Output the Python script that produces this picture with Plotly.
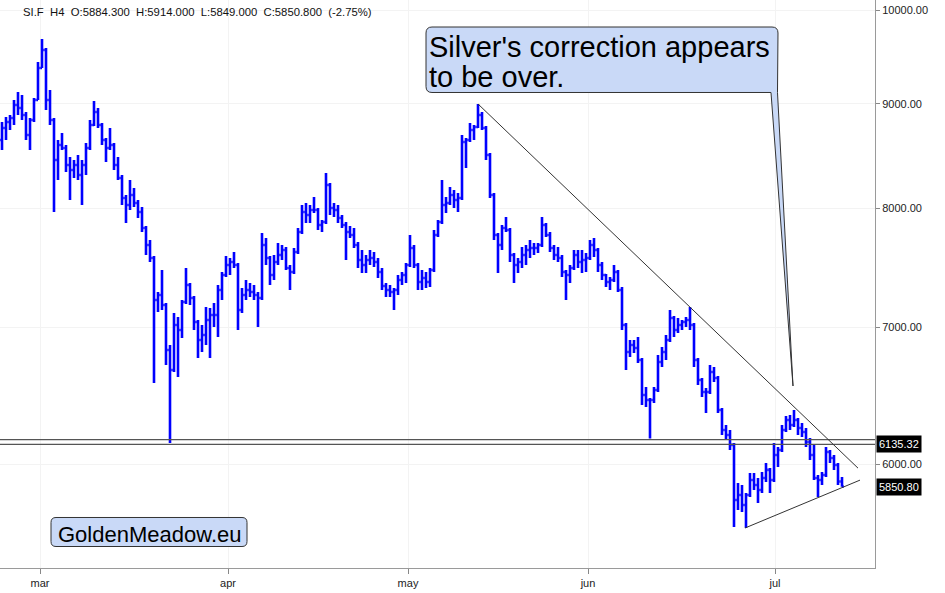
import math
import plotly.graph_objects as go

# ---------------- data (SI.F, H4) ----------------
open_ = [
    8640, 8757, 8816, 8856, 8987, 8956, 8886, 8688, 8836, 9037,
    9368, 9560, 9037, 8836, 8447, 8591, 8562, 8400, 8353, 8400,
    8306, 8400, 8562, 8787, 8916, 8787, 8640, 8562, 8591, 8400,
    8278, 8094, 8031, 8121, 8049, 7968, 7825, 7677, 7566, 7217,
    7257, 7176, 6822, 6670, 7016, 6977, 7200, 7339, 7233, 7040,
    6899, 6938, 7056, 7096, 7096, 7298, 7422, 7506, 7532, 7506,
    7136, 7257, 7298, 7282, 7257, 7233, 7677, 7566, 7422, 7532,
    7591, 7634, 7481, 7448, 7617, 7790, 7968, 7941, 7986, 7986,
    7852, 7878, 8213, 8003, 7986, 7914, 7852, 7790, 7764, 7677,
    7549, 7506, 7549, 7566, 7532, 7448, 7331, 7298, 7282, 7298,
    7381, 7422, 7506, 7651, 7506, 7364, 7397, 7364, 7464, 7764,
    7878, 8031, 8049, 8121, 8076, 8094, 8620, 8640, 8737, 8767,
    8886, 8757, 8495, 8121, 7764, 7677, 7825, 7808, 7591, 7506,
    7532, 7591, 7634, 7651, 7651, 7677, 7852, 7764, 7651, 7591,
    7566, 7448, 7422, 7481, 7591, 7532, 7549, 7566, 7677, 7634,
    7506, 7422, 7364, 7381, 7448, 7298, 7016, 6807, 6860, 6837,
    6746, 6485, 6449, 6449, 6522, 6730, 6807, 6899, 7072, 6977,
    7016, 7040, 7056, 7016, 6746, 6596, 6507, 6507, 6655, 6610,
    6377, 6235, 6200, 6131, 5763, 5795, 5730, 5795, 5894, 5861,
    5828, 5907, 5961, 5894, 6062, 6096, 6235, 6305, 6270, 6305,
    6249, 6221, 6151, 6062, 5907, 5894, 5927, 6082, 6041, 5994,
    5884.3,
]
high = [
    8816, 8866, 8886, 9037, 9119, 9088, 8916, 8856, 9058, 9432,
    9679, 9582, 9140, 8856, 8640, 8708, 8591, 8476, 8447, 8495,
    8447, 8611, 8836, 9027, 8956, 8807, 8659, 8757, 8611, 8476,
    8306, 8121, 8260, 8186, 8076, 8012, 7843, 7720, 7583, 7282,
    7464, 7192, 6860, 7112, 7080, 7217, 7481, 7356, 7249, 7056,
    7016, 7160, 7152, 7192, 7339, 7448, 7583, 7566, 7617, 7523,
    7315, 7381, 7356, 7339, 7282, 7782, 7738, 7583, 7591, 7694,
    7677, 7660, 7506, 7651, 7825, 8031, 8049, 8031, 8103, 8004,
    7896, 8325, 8232, 8049, 8031, 7941, 7878, 7843, 7825, 7703,
    7634, 7591, 7634, 7617, 7566, 7481, 7356, 7339, 7315, 7422,
    7448, 7523, 7764, 7677, 7523, 7464, 7448, 7481, 7808, 7896,
    8260, 8103, 8195, 8167, 8140, 8688, 8659, 8806, 8787, 8997,
    8916, 8777, 8514, 8140, 7782, 7852, 7923, 7825, 7609, 7566,
    7660, 7677, 7720, 7694, 7694, 7923, 7870, 7790, 7677, 7660,
    7591, 7464, 7506, 7634, 7634, 7634, 7609, 7720, 7738, 7651,
    7532, 7431, 7406, 7506, 7464, 7323, 7032, 6899, 6899, 6922,
    6761, 6544, 6463, 6544, 6784, 6845, 6938, 7136, 7088, 7072,
    7056, 7080, 7160, 7032, 6761, 6610, 6536, 6708, 6693, 6625,
    6391, 6270, 6235, 6144, 5874, 5861, 5808, 5940, 5940, 5907,
    5947, 6008, 5974, 6144, 6117, 6270, 6334, 6341, 6377, 6320,
    6284, 6249, 6179, 6131, 5927, 5947, 6117, 6096, 6062, 6008,
    5914,
]
low = [
    8543, 8640, 8737, 8787, 8886, 8836, 8640, 8543, 8816, 9037,
    9368, 8936, 8787, 7968, 8260, 8543, 8334, 8076, 8278, 8260,
    8031, 8306, 8543, 8777, 8757, 8591, 8428, 8543, 8353, 8260,
    8031, 7870, 7986, 8012, 7914, 7790, 7591, 7532, 6573, 7120,
    7136, 6708, 6144, 6655, 6618, 6915, 7184, 7176, 6977, 6761,
    6807, 6860, 6761, 7001, 6922, 7217, 7406, 7422, 7481, 6977,
    7112, 7217, 7241, 7217, 7001, 7217, 7506, 7339, 7381, 7506,
    7549, 7464, 7298, 7431, 7600, 7773, 7870, 7870, 7959, 7808,
    7790, 7861, 7941, 7923, 7870, 7825, 7549, 7738, 7651, 7481,
    7439, 7439, 7506, 7490, 7397, 7298, 7241, 7241, 7136, 7257,
    7339, 7356, 7490, 7481, 7298, 7298, 7315, 7323, 7448, 7747,
    7861, 7959, 8031, 8004, 7968, 8076, 8372, 8620, 8640, 8757,
    8737, 8447, 8094, 7720, 7439, 7634, 7790, 7532, 7356, 7439,
    7481, 7506, 7566, 7591, 7609, 7660, 7747, 7617, 7549, 7532,
    7406, 7217, 7356, 7464, 7481, 7439, 7448, 7549, 7574, 7448,
    7381, 7323, 7298, 7364, 7282, 6977, 6670, 6768, 6799, 6723,
    6413, 6398, 6175, 6427, 6507, 6693, 6746, 6883, 6922, 6954,
    6977, 7001, 6977, 6693, 6559, 6471, 6355, 6492, 6581, 6355,
    6200, 6165, 6096, 5590, 5698, 5686, 5584, 5782, 5828, 5743,
    5808, 5881, 5808, 5881, 5981, 6082, 6221, 6235, 6256, 6200,
    6186, 6117, 6028, 5894, 5782, 5861, 5914, 6008, 5961, 5861,
    5849,
]
close = [
    8757, 8816, 8856, 8987, 8956, 8886, 8688, 8836, 9037, 9368,
    9560, 9037, 8836, 8447, 8591, 8562, 8400, 8353, 8400, 8306,
    8400, 8562, 8787, 8916, 8787, 8640, 8562, 8591, 8400, 8278,
    8094, 8031, 8121, 8049, 7968, 7825, 7677, 7566, 7217, 7257,
    7176, 6822, 6670, 7016, 6977, 7200, 7339, 7233, 7040, 6899,
    6938, 7056, 7096, 7096, 7298, 7422, 7506, 7532, 7506, 7136,
    7257, 7298, 7282, 7257, 7233, 7677, 7566, 7422, 7532, 7591,
    7634, 7481, 7448, 7617, 7790, 7968, 7941, 7986, 7986, 7852,
    7878, 8213, 8003, 7986, 7914, 7852, 7790, 7764, 7677, 7549,
    7506, 7549, 7566, 7532, 7448, 7331, 7298, 7282, 7298, 7381,
    7422, 7506, 7651, 7506, 7364, 7397, 7364, 7464, 7764, 7878,
    8031, 8049, 8121, 8076, 8094, 8620, 8640, 8737, 8767, 8886,
    8757, 8495, 8121, 7764, 7677, 7825, 7808, 7591, 7506, 7532,
    7591, 7634, 7651, 7651, 7677, 7852, 7764, 7651, 7591, 7566,
    7448, 7422, 7481, 7591, 7532, 7549, 7566, 7677, 7634, 7506,
    7422, 7364, 7381, 7448, 7298, 7016, 6807, 6860, 6837, 6746,
    6485, 6449, 6449, 6522, 6730, 6807, 6899, 7072, 6977, 7016,
    7040, 7056, 7016, 6746, 6596, 6507, 6507, 6655, 6610, 6377,
    6235, 6200, 6131, 5763, 5795, 5730, 5795, 5894, 5861, 5828,
    5907, 5961, 5894, 6062, 6096, 6235, 6305, 6270, 6305, 6249,
    6221, 6151, 6062, 5907, 5894, 5927, 6082, 6041, 5994, 5884.3,
    5850.8,
]
bar_index = list(range(len(close)))

# month labels and the bar where each month starts
month_labels = ["mar", "apr", "may", "jun", "jul"]
month_start_bar = [10, 57, 102, 147, 193.75]

# y axis ticks
y_ticks = [6000, 7000, 8000, 9000, 10000]
y_tick_text = ["6000.00", "7000.00", "8000.00", "9000.00", "10000.00"]

# drawn levels / trendlines
support_levels = [6168, 6135.32]
trend_down_x = [119, 214]
trend_down_y = [8997, 5973]
trend_up_x = [185.75, 214.5]
trend_up_y = [5584, 5893]

header = ("SI.F\u00a0\u00a0H4\u00a0\u00a0O:5884.300\u00a0\u00a0H:5914.000\u00a0\u00a0"
          "L:5849.000\u00a0\u00a0C:5850.800\u00a0\u00a0(-2.75%)")

# ---------------- layout geometry ----------------
W, H = 945, 593
PLOT_W, PLOT_H = 875, 568
x_range = [-0.5, 218.25]
y_range = [3.727406, 4.004885]
FONT = "Liberation Sans, Arial, Helvetica, sans-serif"


def px(x):
    return x / PLOT_W


def py(y):
    return 1 - y / PLOT_H


def pt(x, y):
    return f"{px(x):.5f},{py(y):.5f}"


fig = go.Figure()

fig.add_trace(go.Ohlc(
    x=bar_index, open=open_, high=high, low=low, close=close,
    increasing=dict(line=dict(color="#0000ff", width=2.6)),
    decreasing=dict(line=dict(color="#0000ff", width=2.6)),
    tickwidth=0.45, hoverinfo="skip", showlegend=False,
))

for lvl in support_levels:
    fig.add_trace(go.Scatter(
        x=x_range, y=[lvl, lvl], mode="lines",
        line=dict(color="#555555", width=1.3),
        hoverinfo="skip", showlegend=False, cliponaxis=True,
    ))

fig.add_trace(go.Scatter(x=trend_down_x, y=trend_down_y, mode="lines",
                         line=dict(color="#333333", width=1),
                         hoverinfo="skip", showlegend=False))
fig.add_trace(go.Scatter(x=trend_up_x, y=trend_up_y, mode="lines",
                         line=dict(color="#333333", width=1),
                         hoverinfo="skip", showlegend=False))

# callout bubble with tail
r = 6
callout = (
    f"M {pt(426 + r, 27)} L {pt(778 - r, 27)} Q {pt(778, 27)} {pt(778, 27 + r)} "
    f"L {pt(777.5, 92.5)} L {pt(793, 386)} L {pt(771, 92.5)} "
    f"L {pt(426 + r, 92.5)} Q {pt(426, 92.5)} {pt(426, 92.5 - r)} "
    f"L {pt(426, 27 + r)} Q {pt(426, 27)} {pt(426 + r, 27)} Z"
)
r2 = 5
logo_box = (
    f"M {pt(51 + r2, 517.5)} L {pt(247 - r2, 517.5)} Q {pt(247, 517.5)} {pt(247, 517.5 + r2)} "
    f"L {pt(247, 546.5 - r2)} Q {pt(247, 546.5)} {pt(247 - r2, 546.5)} "
    f"L {pt(51 + r2, 546.5)} Q {pt(51, 546.5)} {pt(51, 546.5 - r2)} "
    f"L {pt(51, 517.5 + r2)} Q {pt(51, 517.5)} {pt(51 + r2, 517.5)} Z"
)
shapes = [
    dict(type="path", path=callout, xref="paper", yref="paper",
         fillcolor="#c9d9f7", line=dict(color="#333333", width=1), layer="above"),
    dict(type="path", path=logo_box, xref="paper", yref="paper",
         fillcolor="#c9d9f7", line=dict(color="#333333", width=1), layer="above"),
]

annotations = [
    dict(text=header, xref="paper", yref="paper", x=px(21), y=py(12.3),
         xanchor="left", yanchor="middle", showarrow=False,
         font=dict(family=FONT, size=11.3, color="#111111")),
    dict(text="Silver's correction appears", xref="paper", yref="paper",
         x=px(427), y=py(47), xanchor="left", yanchor="middle", showarrow=False,
         font=dict(family=FONT, size=29, color="#000000")),
    dict(text="to be over.", xref="paper", yref="paper",
         x=px(427), y=py(77), xanchor="left", yanchor="middle", showarrow=False,
         font=dict(family=FONT, size=29, color="#000000")),
    dict(text="GoldenMeadow.eu", xref="paper", yref="paper",
         x=px(149), y=py(534), xanchor="center", yanchor="middle", showarrow=False,
         font=dict(family=FONT, size=22, color="#000000")),
]
for val in [support_levels[1], close[-1]]:
    annotations.append(dict(
        text=f"{val:.2f}", xref="paper", yref="y", x=1, y=math.log10(val),
        xanchor="left", yanchor="middle", showarrow=False, xshift=1,
        bgcolor="#000000", borderpad=2,
        font=dict(family=FONT, size=11, color="#ffffff"),
    ))

fig.update_layout(
    width=W, height=H,
    margin=dict(l=0, r=W - PLOT_W, t=0, b=H - PLOT_H),
    paper_bgcolor="white", plot_bgcolor="white",
    showlegend=False,
    shapes=shapes, annotations=annotations,
    xaxis=dict(
        range=x_range, rangeslider=dict(visible=False),
        tickmode="array", tickvals=[v - 0.5 for v in month_start_bar], ticktext=month_labels,
        ticks="outside", ticklen=5, tickcolor="#888888",
        showline=True, linecolor="#9a9a9a", linewidth=1,
        showgrid=True, gridcolor="#f3f3f3", zeroline=False,
        tickfont=dict(family=FONT, size=11, color="#222222"),
        fixedrange=True,
    ),
    yaxis=dict(
        type="log", range=y_range, side="right",
        tickmode="array", tickvals=y_ticks, ticktext=y_tick_text,
        ticks="outside", ticklen=4, tickcolor="#888888",
        showline=True, linecolor="#9a9a9a", linewidth=1,
        showgrid=True, gridcolor="#f3f3f3", zeroline=False,
        tickfont=dict(family=FONT, size=11, color="#222222"),
        fixedrange=True,
    ),
)

fig.write_html("out.html", config={"displayModeBar": False})
